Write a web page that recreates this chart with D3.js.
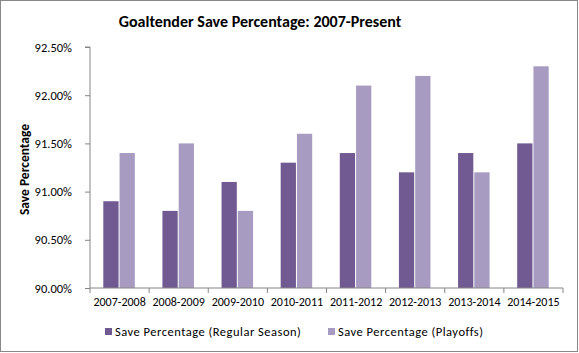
<!DOCTYPE html>
<meta charset="utf-8">
<script src="https://d3js.org/d3.v7.min.js"></script>
<style>
  body { margin: 0; background: #fff; }
  text { font-family: Carlito, Calibri, "Open Sans", sans-serif; }
</style>
<div id="chart"></div>
<script>
// data
var seasons = ["2007-2008", "2008-2009", "2009-2010", "2010-2011", "2011-2012", "2012-2013", "2013-2014", "2014-2015"];
var regularSeason = [90.9, 90.8, 91.1, 91.3, 91.4, 91.2, 91.4, 91.5];
var playoffs = [91.4, 91.5, 90.8, 91.6, 92.1, 92.2, 91.2, 92.3];
var seriesNames = ["Save Percentage (Regular Season)", "Save Percentage (Playoffs)"];
var yTicks = [90.0, 90.5, 91.0, 91.5, 92.0, 92.5];

var W = 579, H = 353;
var margin = {top: 47, right: 16, bottom: 65, left: 90};
var width = W - margin.left - margin.right,
    height = H - margin.top - margin.bottom;
var colors = ["#705a91", "#a79bc2"];

var svg = d3.select("#chart").append("svg")
    .attr("width", W).attr("height", H);

// outer border
svg.append("rect")
    .attr("x", 0.5).attr("y", 0.5)
    .attr("width", W - 2).attr("height", H - 2)
    .attr("fill", "#fff").attr("stroke", "#888");

svg.append("text")
    .attr("x", 260).attr("y", 27)
    .attr("text-anchor", "middle")
    .style("font-weight", "bold").style("font-size", "16px")
    .text("Goaltender Save Percentage: 2007-Present");

var g = svg.append("g")
    .attr("transform", "translate(" + margin.left + "," + margin.top + ")");

var x0 = d3.scaleBand().domain(seasons).range([0, width]).paddingInner(0.45).paddingOuter(0.225);
var x1 = d3.scaleBand().domain([0, 1]).range([0, x0.bandwidth()]);
var y = d3.scaleLinear().domain([90, 92.5]).range([height, 0]);

// bars
var groups = g.selectAll(".grp").data(seasons).enter().append("g")
    .attr("transform", function(d) { return "translate(" + x0(d) + ",0)"; });

groups.selectAll("rect")
    .data(function(d, i) { return [regularSeason[i], playoffs[i]]; })
    .enter().append("rect")
    .attr("x", function(d, j) { return x1(j); })
    .attr("y", function(d) { return y(d); })
    .attr("width", x1.bandwidth() - 1)
    .attr("height", function(d) { return height - y(d); })
    .attr("fill", function(d, j) { return colors[j]; });

// y axis
var yAxis = g.append("g")
    .call(d3.axisLeft(y).tickValues(yTicks).tickSize(5).tickPadding(13)
      .tickFormat(function(d) { return d.toFixed(2) + "%"; }));
yAxis.select(".domain").attr("stroke", "#868686").attr("d", "M-5," + y(92.5) + "H0V" + height);
yAxis.selectAll(".tick line").attr("stroke", "#868686");
yAxis.selectAll(".tick text").style("font-size", "12.5px").attr("fill", "#000");

// x axis
var xAxis = g.append("g").attr("transform", "translate(0," + height + ")");
xAxis.append("line").attr("x1", 0).attr("x2", width).attr("stroke", "#868686");
xAxis.selectAll(".sep").data(d3.range(seasons.length + 1)).enter().append("line")
    .attr("x1", function(i) { return i * x0.step(); })
    .attr("x2", function(i) { return i * x0.step(); })
    .attr("y1", 0).attr("y2", 5).attr("stroke", "#868686");
xAxis.selectAll(".lbl").data(seasons).enter().append("text")
    .attr("x", function(d) { return x0(d) + x0.bandwidth() / 2; })
    .attr("y", 18)
    .attr("text-anchor", "middle")
    .style("font-size", "12px")
    .text(function(d) { return d; });

// y label
svg.append("text")
    .attr("transform", "translate(29," + (margin.top + height / 2 + 2) + ") rotate(-90)")
    .attr("text-anchor", "middle")
    .style("font-weight", "bold").style("font-size", "13.5px")
    .text("Save Percentage");

// legend
var legendX = [105, 328];
var leg = svg.selectAll(".leg").data(seriesNames).enter().append("g")
    .attr("transform", function(d, i) { return "translate(" + legendX[i] + ",328)"; });
leg.append("rect").attr("width", 7).attr("height", 7).attr("y", 0)
    .attr("fill", function(d, i) { return colors[i]; });
leg.append("text").attr("x", 10).attr("y", 8)
    .style("font-size", "12.5px").style("letter-spacing", "0.5px")
    .text(function(d) { return d; });
</script>
